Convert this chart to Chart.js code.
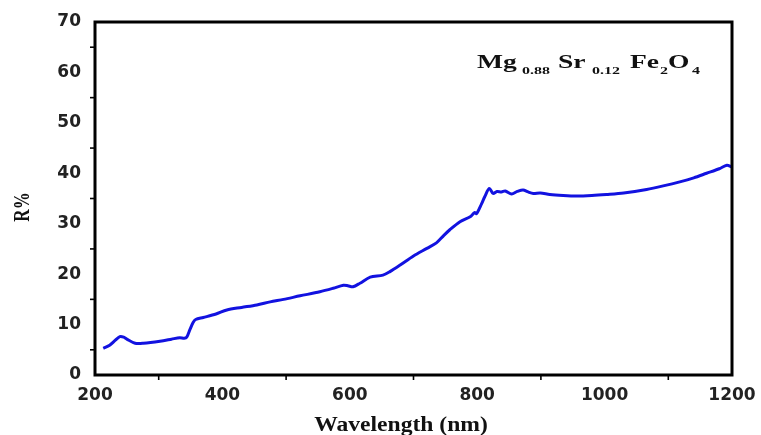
<!DOCTYPE html>
<html>
<head>
<meta charset="utf-8">
<script src="https://cdn.jsdelivr.net/npm/chart.js@4.4.0/dist/chart.umd.min.js"></script>
<style>
  html, body { margin: 0; padding: 0; background: #fff; }
  #wrap { width: 761px; height: 435px; position: relative; }
</style>
</head>
<body>
<div id="wrap"><canvas id="reflChart"></canvas></div>
<script>
// wavelength (nm) and reflectance (%)
const wavelength = [213, 223, 232, 239, 245, 250, 263, 276, 302, 320, 333, 340, 344, 349, 354, 358, 370, 390, 407, 430, 454, 475, 496, 522, 553, 574, 590, 597, 605, 616, 632, 652, 663, 679, 700, 721, 736, 747, 757, 773, 789, 796, 799, 807, 812, 819, 825, 831, 838, 844, 854, 863, 872, 880, 888, 899, 914, 935, 956, 980, 1003, 1030, 1066, 1092, 1118, 1140, 1160, 1180, 1192, 1199];
const reflect = [5.3, 5.9, 6.9, 7.6, 7.5, 7.1, 6.3, 6.3, 6.7, 7.1, 7.4, 7.3, 7.5, 9.0, 10.4, 11.0, 11.4, 12.1, 12.9, 13.4, 13.9, 14.5, 15.0, 15.7, 16.5, 17.2, 17.8, 17.7, 17.5, 18.2, 19.4, 19.8, 20.5, 21.8, 23.6, 25.1, 26.2, 27.6, 28.8, 30.4, 31.4, 32.2, 32.0, 34.0, 35.4, 37.0, 36.0, 36.4, 36.3, 36.5, 35.9, 36.4, 36.7, 36.3, 36.0, 36.1, 35.8, 35.6, 35.5, 35.6, 35.8, 36.1, 36.8, 37.5, 38.3, 39.1, 40.0, 40.9, 41.6, 41.3];
const xTicks = [200, 400, 600, 800, 1000, 1200];
const yTicks = [0, 10, 20, 30, 40, 50, 60, 70];

const points = wavelength.map((w, i) => ({x: w, y: reflect[i]}));

// text stretched sideways, like the scanned figure
function wideText(ctx, t, font, x, y, sx, rot) {
  ctx.save();
  ctx.translate(x, y);
  if (rot) ctx.rotate(rot);
  ctx.scale(rot ? 1 : sx, rot ? sx : 1);
  ctx.font = font;
  ctx.fillText(t, 0, 0);
  ctx.restore();
}

// box, outward minor ticks, axis titles and the formula label
const frame = {
  id: "frame",
  afterDraw(chart) {
    const {ctx, chartArea: a, scales} = chart;
    ctx.save();
    ctx.strokeStyle = "#000";
    ctx.lineWidth = 1.6;
    for (let v = 5; v < 70; v += 10) {
      const y = scales.y.getPixelForValue(v);
      ctx.beginPath(); ctx.moveTo(a.left - 5, y); ctx.lineTo(a.left, y); ctx.stroke();
    }
    for (let v = 300; v < 1200; v += 200) {
      const x = scales.x.getPixelForValue(v);
      ctx.beginPath(); ctx.moveTo(x, a.bottom); ctx.lineTo(x, a.bottom + 5); ctx.stroke();
    }
    ctx.lineWidth = 3;
    ctx.strokeRect(a.left, a.top, a.right - a.left, a.bottom - a.top);

    ctx.fillStyle = "#111";
    ctx.textBaseline = "alphabetic";
    const big = "bold 19px 'Liberation Serif', serif";
    const small = "bold 11px 'Liberation Serif', serif";
    [
      ["Mg", big, 477, 68], ["0.88", small, 522, 74],
      ["Sr", big, 558, 68], ["0.12", small, 592, 74],
      ["Fe", big, 630, 68], ["2", small, 660, 74],
      ["O", big, 668, 68], ["4", small, 692, 74]
    ].forEach(([t, f, x, y]) => wideText(ctx, t, f, x, y, 1.45));

    ctx.textAlign = "center";
    const ttl = "bold 20px 'Liberation Serif', serif";
    wideText(ctx, "Wavelength (nm)", ttl, 401, 431, 1.18);
    ctx.textBaseline = "middle";
    wideText(ctx, "R%", "bold 17px 'Liberation Serif', serif", 23, 207, 1.4, -Math.PI / 2);
    ctx.restore();
  }
};

new Chart(document.getElementById("reflChart"), {
  type: "scatter",
  data: {
    datasets: [{
      data: points,
      showLine: true,
      borderColor: "#1212e0",
      borderWidth: 3,
      pointRadius: 0,
      tension: 0.3
    }]
  },
  options: {
    responsive: true,
    maintainAspectRatio: false,
    animation: false,
    layout: {padding: {top: 22, right: 29, left: 0, bottom: 0}},
    plugins: {legend: {display: false}, tooltip: {enabled: false}},
    scales: {
      x: {
        type: "linear", min: 200, max: 1200,
        afterBuildTicks: s => { s.ticks = xTicks.map(v => ({value: v})); },
        afterFit: s => { s.height = 60; },
        grid: {display: false, drawTicks: true, tickLength: 6, tickColor: "#000", tickWidth: 2},
        border: {display: false},
        ticks: {color: "#222", padding: 4, maxRotation: 0, callback: v => String(v),
          font: {family: "'DejaVu Sans'", weight: "bold", size: 17}}
      },
      y: {
        min: 0, max: 70,
        afterBuildTicks: s => { s.ticks = yTicks.map(v => ({value: v})); },
        afterFit: s => { s.width = 95; },
        grid: {display: false, drawTicks: true, tickLength: 9, tickColor: "#000", tickWidth: 2},
        border: {display: false},
        ticks: {color: "#222", padding: 5, callback: v => String(v),
          font: {family: "'DejaVu Sans'", weight: "bold", size: 17}}
      }
    }
  },
  plugins: [frame]
});
</script>
</body>
</html>
